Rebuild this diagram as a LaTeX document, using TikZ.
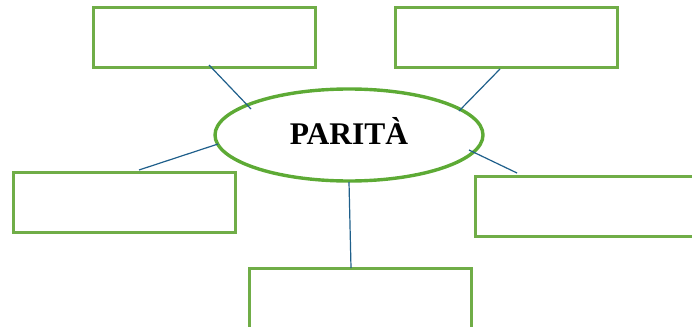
\documentclass[tikz,border=0pt]{standalone}
\usepackage{fontspec}
\setmainfont{Liberation Serif}
\usetikzlibrary{shapes.geometric}
\definecolor{boxgreen}{HTML}{70AD47}
\definecolor{ellgreen}{HTML}{5DAA35}
\definecolor{linkblue}{HTML}{1F5F8B}
\begin{document}
\begin{tikzpicture}[x=1pt,y=-1pt,
  gbox/.style={draw=boxgreen,line width=3pt},
  link/.style={draw=linkblue,line width=1.2pt}]
\useasboundingbox (0,0) rectangle (692,326);
\begin{scope}
\clip (0,0) rectangle (692,326);
\draw[gbox] (93,8) rectangle (315,68);
\draw[gbox] (395,8) rectangle (617,68);
\draw[gbox] (13,172) rectangle (235,232);
\draw[gbox] (475,176) rectangle (700,236);
\draw[gbox] (249,268) rectangle (471,340);
\node[draw=ellgreen,line width=3.4pt,ellipse,minimum width=268pt,minimum height=92pt,inner sep=0pt] (e) at (349,135) {};
\node[font=\bfseries\fontsize{31.5}{32}\selectfont,anchor=base] (t) at (349,144.5) {PARITÀ};
\coordinate (a1) at (209,65); \coordinate (a2) at (251,109);
\coordinate (b1) at (500,69); \coordinate (b2) at (459,111);
\coordinate (c1) at (139,170); \coordinate (c2) at (218,144);
\coordinate (d1) at (469,150); \coordinate (d2) at (517,173);
\coordinate (f1) at (349,182); \coordinate (f2) at (351,268);
\draw[link] (a1) -- (a2);
\draw[link] (b1) -- (b2);
\draw[link] (c1) -- (c2);
\draw[link] (d1) -- (d2);
\draw[link] (f1) -- (f2);
\end{scope}
\end{tikzpicture}
\end{document}
